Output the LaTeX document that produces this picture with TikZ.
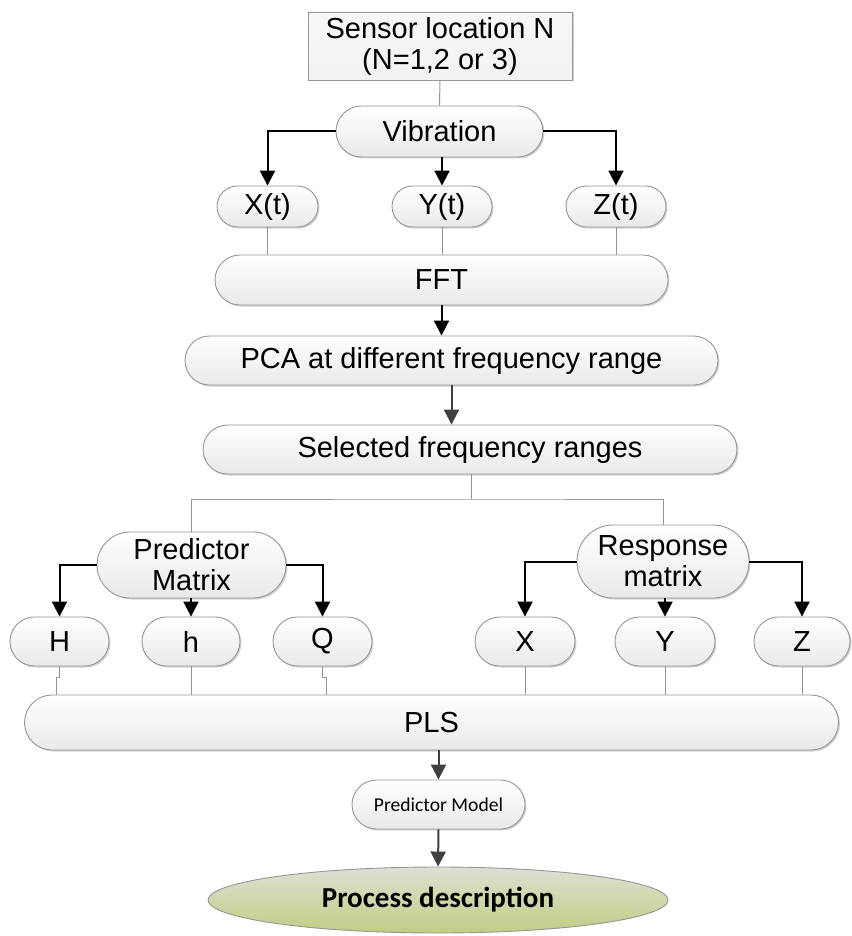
\documentclass[tikz,border=0pt]{standalone}
\usepackage{fontspec}
\setmainfont{Liberation Sans}
\newfontfamily\calib{Carlito}
\usetikzlibrary{arrows.meta,shadows,shapes.geometric}
\definecolor{edge}{RGB}{150,150,150}
\definecolor{elltop}{RGB}{222,224,210}
\definecolor{ellbot}{RGB}{192,206,132}
\tikzset{
  rb/.style={draw=edge, line width=0.9pt, top color=white, bottom color=gray!17, inner sep=0pt, align=center,
    font=\fontsize{29}{31}\selectfont,
    drop shadow={opacity=0.18, shadow xshift=1.5pt, shadow yshift=-1.5pt, fill=black}},
  gl/.style={draw=edge, line width=1pt},
  ba/.style={draw=black, line width=2pt, -{Triangle[width=15pt,length=15pt]}},
  da/.style={draw=black!75, line width=2pt, -{Triangle[width=15pt,length=15pt]}},
}
\begin{document}
\begin{tikzpicture}[x=1pt,y=-1pt]
\useasboundingbox (0,0) rectangle (851,936);
% nodes
\node[rb, rectangle, top color=gray!6, bottom color=gray!10, minimum width=264pt, minimum height=68pt] (sensor) at (440,46) {Sensor location N\\(N=1,2 or 3)};
\node[rb, minimum width=207pt, minimum height=51pt, rounded corners=25.5pt] (vib) at (439.5,131.5) {Vibration};
\node[rb, minimum width=101pt, minimum height=41pt, rounded corners=20.5pt] (xt) at (267.5,206.5) {X(t)};
\node[rb, minimum width=100pt, minimum height=41pt, rounded corners=20.5pt] (yt) at (442,206.5) {Y(t)};
\node[rb, minimum width=100pt, minimum height=41pt, rounded corners=20.5pt] (zt) at (616,206.5) {Z(t)};
\node[rb, minimum width=453pt, minimum height=50pt, rounded corners=25pt] (fft) at (441.5,280) {FFT};
\node[rb, minimum width=533pt, minimum height=49pt, rounded corners=24.5pt] (pca) at (451.5,360.5) {PCA at different frequency range};
\node[rb, minimum width=534pt, minimum height=49pt, rounded corners=24.5pt] (sel) at (470,449.5) {Selected frequency ranges};
\node[rb, minimum width=189pt, minimum height=66pt, rounded corners=33pt] (pred) at (191.5,565) {Predictor\\Matrix};
\node[rb, minimum width=172pt, minimum height=73pt, rounded corners=36pt] (resp) at (663,561.5) {Response\\matrix};
\node[rb, minimum width=99pt, minimum height=49pt, rounded corners=24.5pt] (H) at (59.5,641.5) {H};
\node[rb, minimum width=98pt, minimum height=49pt, rounded corners=24.5pt] (h) at (191,641.5) {h};
\node[rb, minimum width=99pt, minimum height=49pt, rounded corners=24.5pt] (Q) at (322.5,641.5) {Q};
\node[rb, minimum width=100pt, minimum height=49pt, rounded corners=24.5pt] (X) at (525,641.5) {X};
\node[rb, minimum width=100pt, minimum height=49pt, rounded corners=24.5pt] (Y) at (665,641.5) {Y};
\node[rb, minimum width=96pt, minimum height=49pt, rounded corners=24.5pt] (Z) at (802,641.5) {Z};
\node[rb, minimum width=814pt, minimum height=55pt, rounded corners=27.5pt] (pls) at (431.5,722.5) {PLS};
\node[rb, minimum width=173pt, minimum height=49pt, rounded corners=24.5pt, font=\calib\fontsize{19.6}{22}\selectfont] (model) at (438.5,804.5) {Predictor Model};
\node[ellipse, draw=edge, line width=0.9pt, top color=elltop, bottom color=ellbot, minimum width=460pt, minimum height=66pt, inner sep=0pt,
  font=\calib\bfseries\fontsize{29}{31}\selectfont] (proc) at (438,900) {Process description};
% connectors
\draw[gl] (sensor.south) -- (vib.north);
\draw[ba] (vib.west) -| (xt.north);
\draw[ba] (yt.north |- vib.south) -- (yt.north);
\draw[ba] (vib.east) -| (zt.north);
\draw[gl] (xt.south) -- (xt.south |- fft.north);
\draw[gl] (yt.south) -- (yt.south |- fft.north);
\draw[gl] (zt.south) -- (zt.south |- fft.north);
\draw[ba] (fft.south) -- (fft.south |- pca.north);
\draw[da] (pca.south) -- (pca.south |- sel.north);
\coordinate (split) at (471,499);
\draw[gl] (split |- sel.south) -- (split);
\draw[gl] (pred.north) |- (split) -| (resp.north);
\draw[ba] (pred.west) -| (H.north);
\draw[ba] (h.north |- pred.south) -- (h.north);
\draw[ba] (pred.east) -| (Q.north);
\draw[ba] (resp.west) -| (X.north);
\draw[ba] (Y.north |- resp.south) -- (Y.north);
\draw[ba] (resp.east) -| (Z.north);
\draw[gl] (H.south) -- ++(0,11) -- ++(-3,0) coordinate (hj) -- (hj |- pls.north);
\draw[gl] (h.south) -- (h.south |- pls.north);
\draw[gl] (Q.south) -- ++(0,11) -- ++(4,0) coordinate (qj) -- (qj |- pls.north);
\draw[gl] (X.south) -- (X.south |- pls.north);
\draw[gl] (Y.south) -- (Y.south |- pls.north);
\draw[gl] (Z.south) -- (Z.south |- pls.north);
\draw[da] (model.north |- pls.south) -- (model.north);
\draw[da] (model.south) -- (proc.north);
\end{tikzpicture}
\end{document}
